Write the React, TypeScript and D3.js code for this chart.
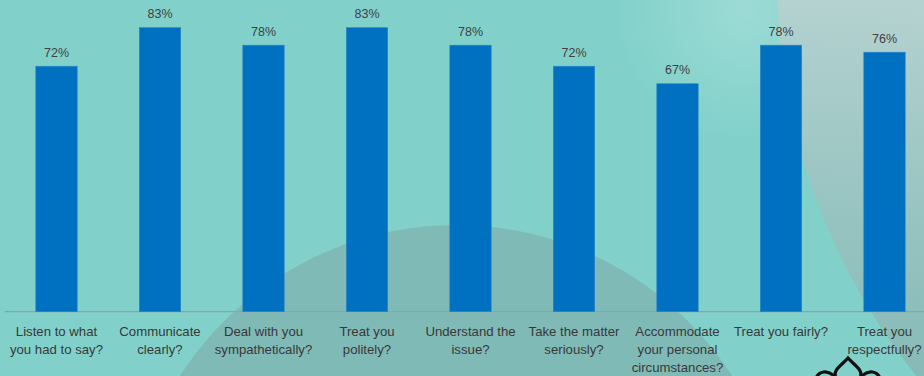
import React from "react";
import * as d3 from "d3";

const categories: string[][] = [
  ["Listen to what", "you had to say?"],
  ["Communicate", "clearly?"],
  ["Deal with you", "sympathetically?"],
  ["Treat you", "politely?"],
  ["Understand the", "issue?"],
  ["Take the matter", "seriously?"],
  ["Accommodate", "your personal", "circumstances?"],
  ["Treat you fairly?"],
  ["Treat you", "respectfully?"],
];
const values: number[] = [0.72, 0.83, 0.78, 0.83, 0.78, 0.72, 0.67, 0.78, 0.76];
const keys = categories.map((_, i) => String(i));

const W = 924;
const H = 376;

export default function App() {
  const x = d3.scaleBand<string>().domain(keys).range([4.75, 936.25]).paddingInner(0.6).paddingOuter(0.3);
  const y = d3.scaleLinear().domain([0.02, 0.9]).range([311.7, 3.1]);
  const fmt = d3.format(".0%");
  const base = y(0.02);
  const font = "'Liberation Sans', Arial, sans-serif";

  return (
    <svg width={W} height={H} style={{ position: "absolute", left: 0, top: 0, display: "block" }}>
      <defs>
        <radialGradient id="glow" cx="745" cy="10" r="130" gradientUnits="userSpaceOnUse">
          <stop offset="0" stopColor="#ffffff" stopOpacity="0.22" />
          <stop offset="1" stopColor="#ffffff" stopOpacity="0" />
        </radialGradient>
        <linearGradient id="tr" x1="880" y1="0" x2="860" y2="376" gradientUnits="userSpaceOnUse">
          <stop offset="0" stopColor="#b4d2d0" />
          <stop offset="0.55" stopColor="#98c4c1" />
          <stop offset="1" stopColor="#86bab7" />
        </linearGradient>
        <clipPath id="clipAll">
          <rect x={0} y={0} width={W} height={H} />
        </clipPath>
      </defs>
      <g clipPath="url(#clipAll)">
        <rect x={0} y={0} width={W} height={H} fill="#81d1ca" />
        <rect x={0} y={0} width={W} height={H} fill="url(#glow)" />
        <circle cx={1410} cy={-20} r={633} fill="url(#tr)" />
        <circle cx={456} cy={553} r={328} fill="#80bab7" />
        <line x1={4.75} x2={W} y1={base} y2={base} stroke="#8aa6a4" strokeWidth={1.2} />
        {values.map((v, i) => (
          <rect
            key={i}
            x={x(keys[i])!}
            y={y(v)}
            width={x.bandwidth()}
            height={base - y(v)}
            fill="#0070c0"
            stroke="#2a86c8"
            strokeWidth={0.6}
          />
        ))}
        {values.map((v, i) => (
          <text
            key={"v" + i}
            x={x(keys[i])! + x.bandwidth() / 2}
            y={y(v) - 9.5}
            textAnchor="middle"
            fontFamily={font}
            fontSize={12.5}
            fill="#404040"
          >
            {fmt(v)}
          </text>
        ))}
        {categories.map((lines, i) => (
          <text
            key={"c" + i}
            x={x(keys[i])! + x.bandwidth() / 2}
            y={335.5}
            textAnchor="middle"
            fontFamily={font}
            fontSize={13.2}
            fill="#383838"
          >
            {lines.map((l, j) => (
              <tspan key={j} x={x(keys[i])! + x.bandwidth() / 2} dy={j === 0 ? 0 : 18}>
                {l}
              </tspan>
            ))}
          </text>
        ))}
        <g fill="none" stroke="#111" strokeWidth={3.2} strokeLinecap="round">
          <path d="M 836 378 C 832 370, 842 365, 848 358 C 854 365, 864 370, 860 378" />
          <path d="M 816 378 C 819 371, 827 370, 833 375" />
          <path d="M 863 375 C 869 370, 877 371, 880 378" />
        </g>
      </g>
    </svg>
  );
}
